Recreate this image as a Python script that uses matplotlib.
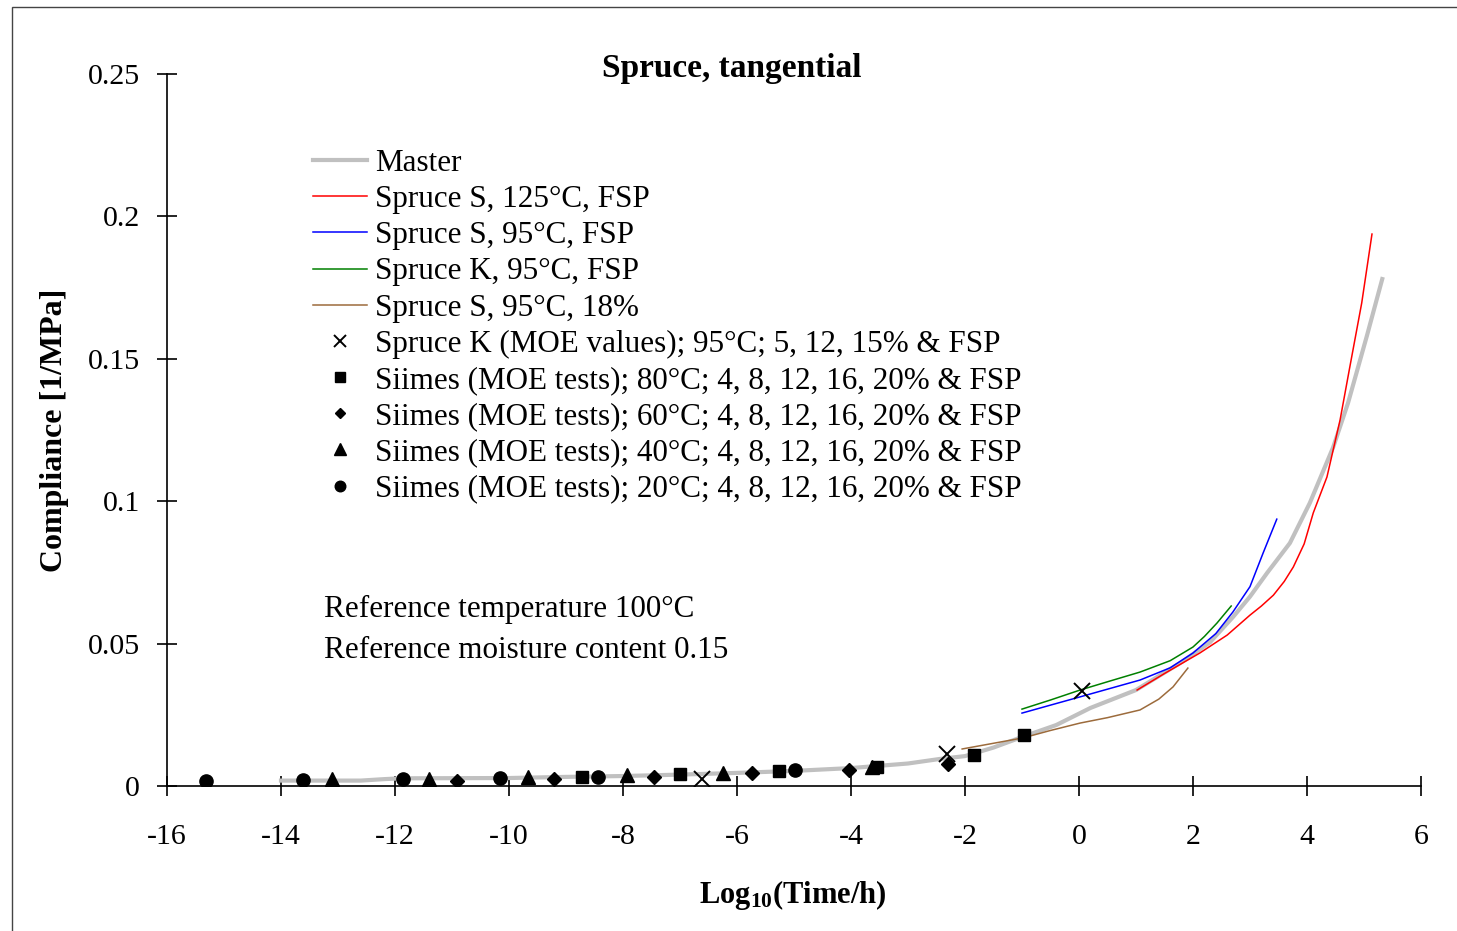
import numpy as np
import matplotlib
matplotlib.use('Agg')
import matplotlib.pyplot as plt
from matplotlib.patches import Rectangle

plt.rcParams['font.family'] = ['Liberation Serif', 'DejaVu Serif']
plt.rcParams['mathtext.default'] = 'regular'
plt.rcParams['axes.unicode_minus'] = False

# master curve
master_x = [-14, -12.6, -12.2, -11.9, -10, -9, -8, -7, -6, -5, -4, -3, -2.44, -2, -1.5, -1,
            -0.4, 0.2, 1.0, 1.8, 2.3, 2.7, 3.0, 3.3, 3.7, 4.05, 4.46, 4.72, 5.05, 5.32]
master_y = [0.0019, 0.0019, 0.0024, 0.0027, 0.0028, 0.0032, 0.0035, 0.0040, 0.0046, 0.0053,
            0.0063, 0.0079, 0.0095, 0.0105, 0.0135, 0.0172, 0.0214, 0.0274, 0.0337, 0.0435,
            0.0505, 0.0593, 0.0665, 0.0748, 0.0853, 0.0994, 0.119, 0.1345, 0.158, 0.178]

# measured creep curves
s125_x = [1.02, 1.5, 2.12, 2.6, 3.0, 3.2, 3.41, 3.6, 3.76, 3.95, 4.11, 4.35, 4.58, 4.75,
          4.96, 5.14]
s125_y = [0.0337, 0.0395, 0.0467, 0.0530, 0.060, 0.0632, 0.0670, 0.0718, 0.0769, 0.0850,
          0.0959, 0.1085, 0.1285, 0.147, 0.1696, 0.1938]
s95_x = [-1.0, -0.5, 0.02, 0.5, 1.07, 1.6, 2.0, 2.4, 2.7, 3.0, 3.23, 3.47]
s95_y = [0.0256, 0.0284, 0.0313, 0.0340, 0.0372, 0.0415, 0.0467, 0.0535, 0.0611, 0.070,
         0.0818, 0.0937]
k95_x = [-1.0, -0.5, 0.02, 0.5, 1.07, 1.6, 2.0, 2.2, 2.42, 2.67]
k95_y = [0.027, 0.0302, 0.0337, 0.0366, 0.040, 0.0440, 0.0488, 0.0525, 0.0572, 0.0632]
s18_x = [-2.05, -1.5, -0.98, -0.5, 0.02, 0.5, 1.07, 1.4, 1.65, 1.91]
s18_y = [0.013, 0.0150, 0.0169, 0.0195, 0.0221, 0.0240, 0.0267, 0.0305, 0.0348, 0.0414]

# MOE points
moe_k_x = [-6.61, -2.32, 0.05]
moe_k_y = [0.0025, 0.0112, 0.0334]
t80_x = [-8.72, -7.0, -5.26, -3.54, -1.84, -0.96]
t80_y = [0.0032, 0.0042, 0.0053, 0.0067, 0.0109, 0.0179]
t60_x = [-10.91, -9.21, -7.46, -5.74, -4.04, -2.30]
t60_y = [0.0019, 0.0025, 0.0032, 0.0046, 0.0056, 0.0077]
t40_x = [-13.1, -11.4, -9.67, -7.93, -6.25, -3.63]
t40_y = [0.0025, 0.0025, 0.0032, 0.0039, 0.0046, 0.0067]
t20_x = [-15.32, -13.61, -11.86, -10.16, -8.44, -4.98]
t20_y = [0.0019, 0.0021, 0.0026, 0.0028, 0.0032, 0.0056]

W, H = 1457, 931
fig = plt.figure(figsize=(W / 100, H / 100), dpi=100)
ax = fig.add_axes([167 / W, 1 - 786 / H, (1421 - 167) / W, (786 - 74) / H])

ax.plot(master_x, master_y, color='#c0c0c0', lw=3.0, label='Master', zorder=2)
ax.plot(s125_x, s125_y, color='#ff0000', lw=1.1, label='Spruce S, 125°C, FSP', zorder=3)
ax.plot(s95_x, s95_y, color='#0000ff', lw=1.1, label='Spruce S, 95°C, FSP', zorder=3)
ax.plot(k95_x, k95_y, color='#008000', lw=1.1, label='Spruce K, 95°C, FSP', zorder=3)
ax.plot(s18_x, s18_y, color='#9c6b3c', lw=1.1, label='Spruce S, 95°C, 18%', zorder=3)
ax.plot(moe_k_x, moe_k_y, ls='none', marker='x', ms=11, mew=1.4, color='black',
        label='Spruce K (MOE values); 95°C; 5, 12, 15% & FSP', zorder=4)
ax.plot(t80_x, t80_y, ls='none', marker='s', ms=9, color='black',
        label='Siimes (MOE tests); 80°C; 4, 8, 12, 16, 20% & FSP', zorder=4)
ax.plot(t60_x, t60_y, ls='none', marker='D', ms=7, color='black',
        label='Siimes (MOE tests); 60°C; 4, 8, 12, 16, 20% & FSP', zorder=4)
ax.plot(t40_x, t40_y, ls='none', marker='^', ms=10, color='black',
        label='Siimes (MOE tests); 40°C; 4, 8, 12, 16, 20% & FSP', zorder=4)
ax.plot(t20_x, t20_y, ls='none', marker='o', ms=9.5, color='black',
        label='Siimes (MOE tests); 20°C; 4, 8, 12, 16, 20% & FSP', zorder=4)

ax.set_xlim(-16, 6)
ax.set_ylim(0, 0.25)
ax.set_xticks(np.arange(-16, 7, 2))
ax.set_yticks([0, 0.05, 0.1, 0.15, 0.2, 0.25])
ax.set_yticklabels(['0', '0.05', '0.1', '0.15', '0.2', '0.25'])
ax.tick_params(axis='both', direction='inout', length=15, width=1.2, labelsize=21.5)
ax.tick_params(axis='x', pad=20)
ax.tick_params(axis='y', pad=12)
for s in ['top', 'right']:
    ax.spines[s].set_visible(False)
for s in ['left', 'bottom']:
    ax.spines[s].set_linewidth(1.2)
ax.patch.set_visible(False)

leg = ax.legend(loc='upper left', bbox_to_anchor=(313 / W, 1 - 149 / H),
                bbox_transform=fig.transFigure, frameon=False, fontsize=22.4,
                borderpad=0, borderaxespad=0, handlelength=1.75, handletextpad=0.25,
                labelspacing=0.23, markerscale=0.8)

fig.text(732 / W, 1 - 68 / H, 'Spruce, tangential', ha='center', va='center',
         fontsize=24, fontweight='bold')
fig.text(55 / W, 1 - 430 / H, 'Compliance [1/MPa]', ha='center', va='center',
         rotation=90, fontsize=23, fontweight='bold')
fig.text(793 / W, 1 - 895 / H, 'Log$_{10}$(Time/h)', ha='center', va='center',
         fontsize=22, fontweight='bold')
fig.text(324 / W, 1 - 609 / H, 'Reference temperature 100°C', ha='left', va='center',
         fontsize=22.4)
fig.text(324 / W, 1 - 651 / H, 'Reference moisture content 0.15', ha='left', va='center',
         fontsize=22.4)

fig.patches.append(Rectangle((12 / W, -0.05), 1.1, 1 - 7 / H + 0.05, transform=fig.transFigure,
                             fill=False, edgecolor='#444444', lw=1.0, clip_on=False))

fig.savefig('out.png', dpi=100)
